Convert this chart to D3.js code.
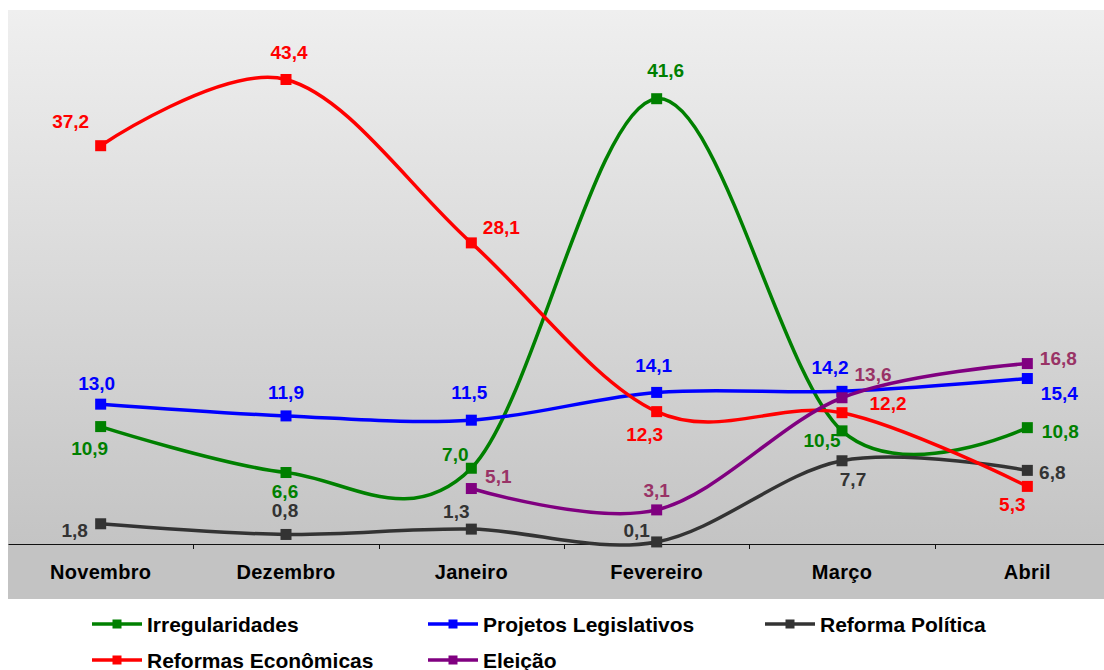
<!DOCTYPE html>
<html>
<head>
<meta charset="utf-8">
<script src="https://cdn.jsdelivr.net/npm/d3@7"></script>
<style>
  html, body { margin: 0; padding: 0; background: #fff; }
  svg { display: block; font-family: "Liberation Sans", Arial, sans-serif; }
</style>
</head>
<body>
<svg id="chart" width="1104" height="670"></svg>
<script>
// ---------- data ----------
const categories = ["Novembro", "Dezembro", "Janeiro", "Fevereiro", "Março", "Abril"];
const irregularidades = [10.9, 6.6, 7.0, 41.6, 10.5, 10.8];
const projetosLegislativos = [13.0, 11.9, 11.5, 14.1, 14.2, 15.4];
const reformaPolitica = [1.8, 0.8, 1.3, 0.1, 7.7, 6.8];
const reformasEconomicas = [37.2, 43.4, 28.1, 12.3, 12.2, 5.3];
const eleicao = [null, null, 5.1, 3.1, 13.6, 16.8];
const seriesNames = ["Irregularidades", "Projetos Legislativos", "Reforma Política", "Reformas Econômicas", "Eleição"];

// ---------- styles / layout ----------
const seriesColors = ["#008000", "#0000FF", "#333333", "#FF0000", "#800080"];
const labelColors  = ["#008000", "#0000FF", "#333333", "#FF0000", "#993366"];
// label centre offsets from each point [dx, dy]
const labelOffsets = [
  [[-11, 21], [-1, 18], [-16, -14], [9, -29], [-20, 9], [33, 3]],
  [[-4, -21], [0, -24], [-2, -28], [-3, -27], [-12, -24], [32, 14]],
  [[-26, 6], [-1, -24], [-15, -18], [-20, -12], [11, 18], [25, 2]],
  [[-30, -25], [3, -27], [30, -16], [-12, 22], [46, -10], [-15, 18]],
  [null, null, [27, -13], [0, -20], [31, -24], [31, -6]]
];

const allValues = [irregularidades, projetosLegislativos, reformaPolitica, reformasEconomicas, eleicao];

const svg = d3.select("#chart");
const plot = { left: 8, right: 1120, top: 10, axisY: 544, bottom: 599 };

const x = d3.scaleBand().domain(categories).range([plot.left, plot.right]).padding(0);
const xc = c => x(c) + x.bandwidth() / 2;
const y = d3.scaleLinear().domain([0, 50]).range([543, 9]);

// background gradient
const defs = svg.append("defs");
const grad = defs.append("linearGradient").attr("id", "bg").attr("x1", 0).attr("y1", 0).attr("x2", 0).attr("y2", 1);
grad.append("stop").attr("offset", "0%").attr("stop-color", "#EFEFEF");
grad.append("stop").attr("offset", "100%").attr("stop-color", "#C4C4C4");

svg.append("rect")
  .attr("x", plot.left).attr("y", plot.top)
  .attr("width", plot.right - plot.left).attr("height", plot.axisY - plot.top)
  .attr("fill", "url(#bg)");
svg.append("rect")
  .attr("x", plot.left).attr("y", plot.axisY)
  .attr("width", plot.right - plot.left).attr("height", plot.bottom - plot.axisY)
  .attr("fill", "#C3C3C3");

// x axis
const xAxis = d3.axisBottom(x).tickSize(0).tickPadding(0);
const gx = svg.append("g").attr("transform", `translate(0,${plot.axisY})`).call(xAxis);
gx.select(".domain").attr("stroke", "#111").attr("stroke-width", 1.2);
gx.selectAll(".tick text")
  .attr("y", 35).attr("dy", 0)
  .attr("fill", "#000")
  .style("font-size", "20px").style("font-weight", "bold")
  .style("letter-spacing", "0.3px")
  .style("font-family", "'Liberation Sans', Arial, sans-serif");
// tick marks at band boundaries
gx.selectAll(".bound").data(categories.slice(1)).enter().append("line")
  .attr("class", "bound")
  .attr("x1", d => Math.round(x(d)) + 0.5).attr("x2", d => Math.round(x(d)) + 0.5)
  .attr("y1", 0).attr("y2", 5)
  .attr("stroke", "#111").attr("stroke-width", 1);

// lines
const line = d3.line()
  .defined(d => d.v !== null)
  .x(d => xc(d.c)).y(d => y(d.v))
  .curve(d3.curveCardinal.tension(0));

const seriesData = allValues.map((vals, i) => ({
  name: seriesNames[i],
  color: seriesColors[i],
  lcolor: labelColors[i],
  pts: vals.map((v, j) => ({ c: categories[j], v: v, j: j }))
}));

const gLines = svg.append("g");
seriesData.forEach((s, i) => {
  const g = gLines.append("g");
  g.append("path")
    .attr("d", line(s.pts.filter(p => p.v !== null)))
    .attr("fill", "none").attr("stroke", s.color).attr("stroke-width", 3.5)
    .attr("stroke-linejoin", "round");
  g.selectAll("rect").data(s.pts.filter(p => p.v !== null)).enter().append("rect")
    .attr("x", d => xc(d.c) - 5.5).attr("y", d => y(d.v) - 5.5)
    .attr("width", 11).attr("height", 11)
    .attr("fill", s.color);
});

// labels
const gLabels = svg.append("g");
seriesData.forEach((s, i) => {
  gLabels.selectAll(null).data(s.pts.filter(p => p.v !== null)).enter().append("text")
    .attr("x", d => xc(d.c) + labelOffsets[i][d.j][0])
    .attr("y", d => y(d.v) + labelOffsets[i][d.j][1] + 7)
    .attr("text-anchor", "middle")
    .attr("fill", s.lcolor)
    .style("font-size", "19px").style("font-weight", "bold")
    .text(d => d3.format(".1f")(d.v).replace(".", ","));
});

// legend
const legendPos = [[92, 624], [428, 624], [765, 624], [92, 660], [428, 660]];
const gLeg = svg.append("g");
seriesData.forEach((s, i) => {
  const [lx, ly] = legendPos[i];
  const g = gLeg.append("g").attr("transform", `translate(${lx},${ly})`);
  g.append("line").attr("x1", 0).attr("x2", 50).attr("y1", 0).attr("y2", 0)
    .attr("stroke", s.color).attr("stroke-width", 3.5);
  g.append("rect").attr("x", 20.5).attr("y", -4.5).attr("width", 9).attr("height", 9).attr("fill", s.color);
  g.append("text").attr("x", 55).attr("y", 7.5)
    .attr("fill", "#000")
    .style("font-size", "21px").style("font-weight", "bold")
    .text(s.name);
});
</script>
</body>
</html>
